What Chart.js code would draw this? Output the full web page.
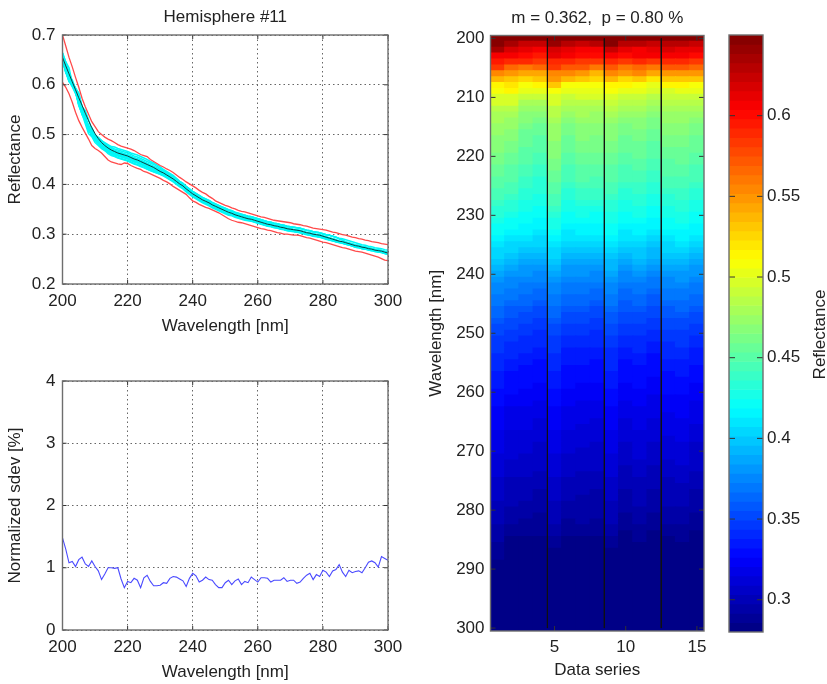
<!DOCTYPE html>
<html>
<head>
<meta charset="utf-8">
<script src="https://cdn.jsdelivr.net/npm/chart.js@4/dist/chart.umd.min.js"></script>
<style>
    html, body { margin: 0; background: #fff; width: 827px; height: 684px; overflow: hidden; }
    canvas { position: absolute; filter: blur(0.45px); }
</style>
</head>
<body>
<canvas id="curves" width="420" height="345" style="left:0;top:0"></canvas>
<canvas id="sdev" width="420" height="324" style="left:0;top:360px"></canvas>
<canvas id="heat" width="300" height="684" style="left:425px;top:0"></canvas>
<canvas id="bar" width="102" height="684" style="left:725px;top:0"></canvas>
<script>
const wavelengthTicks = [200, 220, 240, 260, 280, 300];
const reflectanceTicks = [0.2, 0.3, 0.4, 0.5, 0.6, 0.7];
const sdevTicks = [0, 1, 2, 3, 4];
const heatRowTicks = [200, 210, 220, 230, 240, 250, 260, 270, 280, 290, 300];
const heatColTicks = [5, 10, 15];
const colorbarTicks = [0.3, 0.35, 0.4, 0.45, 0.5, 0.55, 0.6];
const groupSeparators = [4.5, 8.5, 12.5];
const colorMin = 0.28;
const colorMax = 0.65;

const meanCurve = [.655,.638,.622,.606,.590,.574,.559,.543,.528,.514,.502,.492,.484,.478,.473,.469,.466,.463,.461,.459,
    .457,.454,.451,.449,.446,.443,.440,.437,.434,.430,.426,.423,.419,.415,.411,.406,.401,.397,.391,.386,
    .381,.377,.373,.369,.366,.363,.359,.356,.353,.350,.347,.344,.342,.339,.337,.335,.333,.331,.330,.328,
    .326,.324,.322,.320,.319,.317,.316,.314,.313,.311,.310,.309,.308,.307,.305,.303,.302,.300,.299,.298,
    .296,.294,.292,.290,.288,.286,.285,.283,.281,.279,.277,.276,.274,.273,.271,.270,.268,.267,.266,.264,.262];

const upperCurve = [.700,.678,.655,.636,.615,.595,.573,.556,.541,.526,.516,.506,.500,.495,.491,.488,.484,.480,.477,.475,
    .473,.471,.468,.464,.460,.458,.456,.450,.446,.442,.438,.435,.431,.428,.424,.419,.414,.410,.405,.401,
    .397,.393,.388,.384,.381,.376,.372,.367,.364,.361,.358,.356,.353,.351,.348,.346,.345,.343,.341,.339,
    .337,.335,.334,.332,.330,.328,.327,.326,.325,.324,.323,.321,.320,.319,.317,.316,.314,.312,.311,.310,
    .309,.308,.306,.304,.303,.301,.299,.298,.296,.294,.293,.291,.290,.288,.287,.285,.284,.283,.281,.280,.279];

const lowerCurve = [.605,.595,.582,.565,.545,.528,.515,.503,.491,.478,.472,.468,.463,.456,.449,.445,.443,.441,.440,.443,
    .442,.438,.435,.432,.430,.426,.424,.421,.418,.415,.412,.408,.405,.401,.396,.392,.388,.384,.380,.373,
    .367,.364,.360,.357,.354,.352,.349,.346,.343,.339,.335,.331,.328,.326,.324,.323,.321,.319,.317,.315,
    .313,.311,.310,.308,.307,.305,.303,.302,.300,.300,.299,.298,.298,.297,.295,.293,.292,.290,.288,.286,
    .284,.283,.281,.279,.277,.275,.273,.272,.270,.268,.266,.265,.264,.262,.260,.258,.256,.254,.251,.248,.247];

const sdevCurve = [1.48,1.30,1.08,1.10,1.02,1.13,1.17,1.06,1.02,1.11,1.02,.95,.81,.90,1.00,1.00,.99,1.00,.82,.68,
    .78,.76,.83,.80,.68,.84,.88,.78,.71,.71,.72,.76,.75,.83,.86,.85,.82,.79,.70,.83,
    .91,.87,.77,.80,.85,.81,.80,.73,.68,.68,.76,.80,.73,.79,.82,.73,.78,.76,.85,.81,
    .77,.84,.84,.83,.77,.80,.80,.80,.84,.78,.80,.80,.75,.77,.83,.88,.91,.81,.89,.86,
    .96,.93,.86,.95,.97,1.05,.93,.86,.96,.92,.94,.95,.92,1.00,1.09,1.11,1.08,1.01,1.18,1.15,1.12];

// one row per wavelength, one value per data series
const seriesTable = [
    [.664,.660,.652,.652,.660,.660,.652,.652,.664,.664,.650,.650,.656,.652,.648],
    [.646,.638,.626,.626,.640,.632,.626,.628,.646,.630,.632,.624,.632,.630,.626],
    [.634,.620,.610,.608,.618,.614,.606,.608,.626,.612,.608,.612,.616,.612,.610],
    [.604,.606,.600,.596,.610,.606,.600,.600,.606,.598,.604,.604,.604,.606,.602],
    [.594,.592,.588,.582,.592,.590,.584,.586,.592,.586,.590,.586,.592,.590,.586],
    [.582,.566,.560,.566,.584,.570,.574,.562,.572,.560,.566,.558,.572,.572,.566],
    [.556,.548,.542,.544,.556,.552,.546,.540,.552,.546,.552,.542,.548,.546,.550],
    [.538,.534,.528,.532,.548,.536,.530,.528,.536,.526,.534,.522,.534,.530,.532],
    [.516,.518,.508,.514,.530,.508,.506,.506,.516,.512,.506,.502,.516,.514,.510],
    [.506,.514,.504,.500,.510,.504,.504,.503,.506,.500,.504,.496,.498,.500,.503],
    [.495,.499,.489,.489,.499,.490,.496,.495,.494,.492,.492,.484,.490,.490,.490],
    [.494,.494,.482,.482,.494,.483,.488,.486,.490,.484,.486,.478,.486,.486,.484],
    [.488,.486,.476,.474,.488,.478,.482,.480,.484,.478,.478,.472,.480,.480,.478],
    [.482,.480,.470,.468,.484,.472,.478,.476,.478,.472,.474,.468,.476,.476,.472],
    [.478,.476,.466,.462,.480,.468,.472,.472,.474,.468,.470,.464,.472,.472,.468],
    [.474,.472,.462,.458,.476,.464,.470,.468,.470,.464,.466,.460,.468,.468,.464],
    [.471,.468,.459,.456,.475,.461,.467,.466,.468,.462,.463,.457,.465,.466,.461],
    [.469,.466,.457,.453,.472,.459,.465,.464,.465,.459,.461,.454,.462,.463,.459],
    [.467,.464,.455,.451,.470,.457,.463,.462,.463,.457,.459,.452,.460,.461,.457],
    [.465,.461,.453,.449,.468,.455,.461,.460,.461,.455,.457,.450,.458,.459,.455],
    [.463,.459,.451,.447,.466,.453,.459,.458,.459,.453,.455,.448,.456,.457,.453],
    [.460,.456,.448,.444,.463,.450,.456,.455,.456,.450,.452,.445,.453,.454,.450],
    [.457,.453,.445,.441,.461,.447,.453,.452,.453,.447,.449,.442,.450,.451,.447],
    [.455,.451,.443,.439,.459,.445,.451,.450,.451,.445,.447,.440,.448,.449,.445],
    [.452,.448,.440,.436,.456,.442,.448,.447,.448,.442,.444,.437,.445,.446,.442],
    [.449,.445,.437,.434,.453,.439,.445,.444,.445,.439,.441,.434,.442,.443,.439],
    [.446,.442,.434,.431,.450,.436,.441,.441,.442,.436,.438,.431,.439,.440,.436],
    [.443,.439,.431,.428,.446,.433,.438,.438,.439,.433,.435,.428,.436,.437,.433],
    [.440,.436,.428,.425,.443,.430,.434,.433,.436,.430,.432,.426,.433,.434,.430],
    [.436,.432,.425,.423,.439,.427,.430,.429,.433,.427,.429,.423,.430,.431,.427],
    [.432,.428,.422,.420,.435,.423,.426,.424,.430,.423,.425,.420,.427,.428,.423],
    [.428,.424,.420,.417,.430,.420,.423,.420,.427,.420,.422,.417,.424,.425,.420],
    [.424,.420,.416,.414,.426,.416,.418,.416,.423,.416,.418,.413,.420,.421,.416],
    [.420,.416,.413,.410,.422,.412,.414,.413,.419,.412,.414,.409,.416,.417,.413],
    [.416,.412,.408,.407,.418,.408,.410,.408,.415,.408,.410,.405,.412,.413,.409],
    [.411,.407,.404,.402,.412,.404,.404,.402,.410,.403,.405,.400,.407,.408,.404],
    [.406,.402,.398,.397,.406,.399,.399,.397,.405,.398,.400,.395,.402,.403,.399],
    [.402,.398,.395,.393,.402,.395,.395,.393,.401,.394,.396,.391,.398,.399,.395],
    [.396,.392,.389,.387,.396,.389,.389,.387,.395,.388,.390,.385,.392,.393,.389],
    [.391,.387,.384,.382,.391,.384,.384,.382,.390,.383,.385,.380,.387,.388,.384],
    [.386,.382,.379,.377,.386,.379,.379,.377,.385,.378,.380,.375,.382,.383,.379],
    [.382,.378,.375,.373,.382,.375,.375,.373,.381,.374,.376,.371,.378,.379,.375],
    [.378,.374,.371,.369,.378,.371,.371,.369,.377,.370,.372,.367,.374,.375,.371],
    [.374,.370,.367,.365,.374,.367,.367,.365,.373,.366,.368,.363,.370,.371,.367],
    [.371,.367,.364,.362,.371,.364,.364,.362,.370,.363,.365,.360,.367,.368,.364],
    [.368,.364,.361,.359,.368,.361,.361,.359,.367,.360,.362,.357,.364,.365,.361],
    [.364,.360,.357,.355,.364,.357,.357,.355,.363,.356,.358,.353,.360,.361,.357],
    [.361,.357,.354,.352,.361,.354,.354,.352,.360,.353,.355,.350,.357,.358,.354],
    [.358,.354,.351,.349,.358,.351,.351,.349,.357,.350,.352,.347,.354,.355,.351],
    [.355,.351,.348,.346,.355,.348,.348,.346,.354,.347,.349,.344,.351,.352,.348],
    [.352,.348,.345,.343,.352,.345,.345,.343,.351,.344,.346,.341,.348,.349,.345],
    [.349,.345,.342,.340,.349,.342,.342,.340,.348,.341,.343,.338,.345,.346,.342],
    [.347,.343,.340,.338,.347,.340,.340,.339,.346,.339,.341,.337,.343,.344,.340],
    [.344,.340,.338,.336,.344,.337,.337,.336,.343,.336,.338,.334,.340,.341,.337],
    [.342,.338,.336,.334,.342,.335,.335,.334,.341,.334,.336,.332,.338,.339,.335],
    [.340,.336,.334,.332,.340,.333,.333,.332,.339,.332,.334,.330,.336,.337,.333],
    [.338,.334,.332,.330,.338,.331,.331,.330,.338,.330,.332,.328,.334,.335,.331],
    [.336,.332,.330,.329,.336,.330,.329,.328,.336,.328,.331,.327,.332,.333,.329],
    [.335,.331,.329,.328,.335,.329,.328,.327,.335,.327,.330,.326,.331,.332,.328],
    [.333,.329,.327,.326,.333,.327,.326,.325,.333,.325,.328,.324,.329,.330,.326],
    [.331,.327,.325,.323,.331,.325,.324,.323,.331,.323,.326,.322,.327,.328,.324],
    [.329,.325,.323,.321,.329,.323,.322,.321,.329,.321,.324,.320,.325,.326,.322],
    [.327,.322,.321,.319,.327,.321,.320,.319,.327,.319,.322,.318,.323,.324,.320],
    [.325,.320,.319,.317,.325,.319,.318,.317,.325,.317,.320,.316,.321,.322,.318],
    [.324,.319,.318,.316,.324,.318,.317,.316,.324,.316,.319,.315,.320,.321,.317],
    [.322,.317,.316,.314,.322,.316,.315,.314,.322,.314,.317,.313,.318,.319,.315],
    [.321,.316,.315,.313,.321,.315,.314,.313,.321,.313,.316,.312,.317,.318,.314],
    [.319,.314,.313,.311,.319,.313,.312,.311,.319,.311,.314,.310,.315,.316,.312],
    [.318,.313,.312,.310,.318,.312,.311,.310,.318,.310,.313,.309,.313,.315,.310],
    [.316,.311,.310,.308,.316,.310,.309,.308,.316,.308,.311,.307,.311,.313,.308],
    [.315,.310,.309,.307,.315,.309,.308,.307,.315,.307,.310,.306,.310,.312,.307],
    [.314,.309,.307,.306,.314,.308,.307,.306,.314,.306,.309,.305,.309,.310,.306],
    [.313,.308,.306,.305,.313,.307,.306,.305,.313,.305,.308,.304,.308,.309,.305],
    [.312,.307,.305,.304,.312,.306,.305,.304,.312,.303,.307,.303,.307,.308,.304],
    [.310,.305,.304,.302,.310,.304,.303,.302,.310,.302,.305,.301,.305,.306,.302],
    [.308,.303,.302,.300,.308,.302,.301,.300,.308,.300,.303,.299,.303,.304,.300],
    [.307,.302,.301,.299,.307,.301,.300,.299,.307,.299,.302,.298,.302,.303,.299],
    [.305,.300,.299,.297,.305,.299,.298,.297,.305,.297,.300,.296,.300,.301,.297],
    [.304,.299,.298,.296,.304,.298,.297,.296,.304,.296,.299,.295,.299,.300,.296],
    [.303,.298,.297,.295,.303,.297,.296,.295,.303,.295,.298,.294,.298,.299,.295],
    [.301,.296,.295,.293,.301,.295,.294,.293,.301,.293,.296,.292,.296,.297,.293],
    [.299,.294,.293,.291,.299,.293,.293,.292,.299,.291,.294,.290,.294,.295,.291],
    [.298,.292,.291,.290,.298,.291,.292,.291,.298,.289,.292,.288,.292,.293,.289],
    [.296,.290,.289,.288,.296,.289,.291,.289,.296,.287,.290,.287,.290,.291,.287],
    [.294,.288,.288,.286,.294,.287,.289,.287,.294,.285,.288,.285,.288,.289,.285],
    [.292,.285,.285,.285,.291,.285,.285,.285,.290,.283,.286,.284,.285,.286,.284],
    [.291,.284,.284,.283,.288,.283,.283,.283,.288,.282,.284,.282,.284,.284,.283],
    [.289,.282,.282,.281,.285,.281,.281,.281,.284,.280,.282,.280,.282,.282,.281],
    [.287,.280,.280,.279,.283,.279,.279,.279,.282,.278,.280,.278,.280,.280,.279],
    [.285,.278,.278,.277,.281,.277,.277,.277,.280,.276,.278,.276,.278,.278,.277],
    [.283,.276,.276,.275,.279,.275,.275,.275,.278,.274,.276,.274,.276,.276,.275],
    [.281,.275,.275,.274,.278,.274,.274,.274,.277,.273,.275,.273,.275,.275,.274],
    [.279,.273,.273,.272,.276,.272,.272,.272,.275,.271,.273,.271,.273,.274,.272],
    [.278,.272,.272,.271,.275,.271,.271,.271,.274,.270,.272,.270,.272,.273,.271],
    [.276,.270,.270,.269,.273,.269,.269,.269,.272,.268,.270,.268,.270,.271,.269],
    [.275,.269,.269,.268,.272,.268,.268,.268,.271,.267,.269,.267,.269,.270,.268],
    [.273,.267,.267,.266,.270,.266,.266,.266,.269,.265,.267,.265,.267,.268,.266],
    [.272,.266,.266,.265,.269,.265,.265,.265,.268,.264,.266,.264,.266,.267,.265],
    [.271,.265,.265,.264,.268,.264,.264,.264,.267,.263,.265,.263,.265,.266,.264],
    [.269,.263,.263,.262,.266,.262,.262,.262,.265,.261,.263,.261,.263,.264,.262],
    [.268,.261,.261,.260,.264,.260,.260,.260,.263,.259,.261,.259,.261,.262,.260]
];

const wavelengths = seriesTable.map((row, i) => 200 + i);
const toPoints = values => values.map((y, i) => ({ x: wavelengths[i], y }));

// MATLAB jet, 64 steps
function jet(value) {
    const level = Math.min(63, Math.max(0, Math.floor((value - colorMin) / (colorMax - colorMin) * 64)));
    const t = (level + 0.5) / 64 * 4;
    const ch = c => Math.round(255 * Math.min(1, Math.max(0, 1.5 - Math.abs(t - c))));
    return `rgb(${ch(3)},${ch(2)},${ch(1)})`;
}

Chart.defaults.font.family = '"Liberation Sans", Arial, sans-serif';
Chart.defaults.font.size = 17;
Chart.defaults.color = '#222222';
Chart.defaults.animation = false;
Chart.defaults.responsive = false;
Chart.defaults.plugins.legend.display = false;
Chart.defaults.plugins.tooltip.enabled = false;

// box around the plot with inward tick marks on all four sides
const boxTicks = {
    id: 'boxTicks',
    afterDraw(chart, args, opts) {
        const { ctx, chartArea: a, scales } = chart;
        const len = opts.length || 4;
        ctx.save();
        ctx.strokeStyle = '#333333';
        ctx.lineWidth = 1;
        ctx.beginPath();
        if (scales.x.options.display) {
            scales.x.ticks.forEach(t => {
                const px = scales.x.getPixelForValue(t.value);
                ctx.moveTo(px, a.top); ctx.lineTo(px, a.top + len);
                ctx.moveTo(px, a.bottom); ctx.lineTo(px, a.bottom - len);
            });
        }
        scales.y.ticks.forEach(t => {
            const py = scales.y.getPixelForValue(t.value);
            ctx.moveTo(a.left, py); ctx.lineTo(a.left + len, py);
            ctx.moveTo(a.right, py); ctx.lineTo(a.right - len, py);
        });
        ctx.stroke();
        ctx.strokeStyle = '#6e6e6e';
        ctx.lineWidth = 1.4;
        ctx.strokeRect(a.left, a.top, a.right - a.left, a.bottom - a.top);
        ctx.restore();
    }
};

// colorbar label reads bottom to top, the axis title on a right axis would not
const barLabel = {
    id: 'barLabel',
    afterDraw(chart) {
        const { ctx, chartArea: a } = chart;
        ctx.save();
        ctx.translate(95, (a.top + a.bottom) / 2 + 1);
        ctx.rotate(-Math.PI / 2);
        ctx.textAlign = 'center';
        ctx.textBaseline = 'middle';
        ctx.font = '17px "Liberation Sans", Arial, sans-serif';
        ctx.fillStyle = '#222222';
        ctx.fillText('Reflectance', 0, 0);
        ctx.restore();
    }
};

function axis(ticks, extra) {
    return Object.assign({
        type: 'linear',
        offset: false,
        afterBuildTicks: s => { s.ticks = ticks.map(value => ({ value })); },
        ticks: { autoSkip: false, maxRotation: 0, padding: 7, callback: v => String(v) },
        grid: { drawTicks: false, color: '#666666', lineWidth: 1 },
        border: { display: false, dash: [1.5, 3] }
    }, extra);
}
const fixedWidth = w => s => { s.width = w; };
const fixedHeight = h => s => { s.height = h; };
const axisTitle = (text, padding) => ({ display: true, text, font: { size: 17 }, color: '#222222', padding });
const noGrid = { display: false, drawTicks: false };
const heatTickStyle = { autoSkip: false, maxRotation: 0, padding: 6, callback: v => String(v) };

new Chart(document.getElementById('curves'), {
    type: 'line',
    data: {
        datasets: [
            { data: toPoints(meanCurve), borderColor: '#103c3c', borderWidth: 1 },
            { data: toPoints(upperCurve), borderColor: '#ff4a4a', borderWidth: 1.3 },
            { data: toPoints(lowerCurve), borderColor: '#ff4a4a', borderWidth: 1.3 },
            ...seriesTable[0].map((v, s) => ({
                data: toPoints(seriesTable.map(row => row[s])),
                borderColor: '#00f8f8',
                borderWidth: 1.5
            }))
        ]
    },
    options: {
        layout: { padding: { right: 32 } },
        elements: { point: { radius: 0 }, line: { tension: 0 } },
        plugins: {
            title: { display: true, text: 'Hemisphere #11', fullSize: false, font: { size: 17, weight: 'normal' }, color: '#222222', padding: { top: 7, bottom: 7.6 } },
            boxTicks: {}
        },
        scales: {
            x: axis(wavelengthTicks, { min: 200, max: 300, afterFit: fixedHeight(61), title: axisTitle('Wavelength [nm]', { top: 0, bottom: 8 }) }),
            y: axis(reflectanceTicks, { min: 0.2, max: 0.7, afterFit: fixedWidth(62.5), title: axisTitle('Reflectance', { top: 5, bottom: 0 }) })
        }
    },
    plugins: [boxTicks]
});

new Chart(document.getElementById('sdev'), {
    type: 'line',
    data: { datasets: [{ data: toPoints(sdevCurve), borderColor: '#4a4aff', borderWidth: 1.1 }] },
    options: {
        layout: { padding: { top: 21, right: 32 } },
        elements: { point: { radius: 0 }, line: { tension: 0 } },
        plugins: { boxTicks: {} },
        scales: {
            x: axis(wavelengthTicks, { min: 200, max: 300, afterFit: fixedHeight(54), title: axisTitle('Wavelength [nm]', { top: 0, bottom: 1 }) }),
            y: axis(sdevTicks, { min: 0, max: 4, afterFit: fixedWidth(62.5), title: axisTitle('Normalized sdev [%]', { top: 5, bottom: 0 }) })
        }
    },
    plugins: [boxTicks]
});

const heatCells = [];
const heatColors = [];
seriesTable.forEach((row, r) => row.forEach((v, c) => {
    heatCells.push({ x: c + 1, y: [wavelengths[r] - 0.5, wavelengths[r] + 0.5] });
    heatColors.push(jet(v));
}));

new Chart(document.getElementById('heat'), {
    type: 'bar',
    data: {
        datasets: [
            ...groupSeparators.map(x => ({
                type: 'line',
                data: [{ x, y: 200 }, { x, y: 300 }],
                borderColor: '#111111',
                borderWidth: 1,
                pointRadius: 0
            })),
            { data: heatCells, backgroundColor: heatColors, barPercentage: 1, categoryPercentage: 1, inflateAmount: 0.6 }
        ]
    },
    options: {
        plugins: {
            title: { display: true, text: 'm = 0.362,  p = 0.80 %', fullSize: false, font: { size: 17, weight: 'normal' }, color: '#222222', padding: { top: 8, bottom: 7.1 } },
            boxTicks: { length: 5 }
        },
        layout: { padding: { right: 21 } },
        scales: {
            x: axis(heatColTicks, { min: 0.5, max: 15.5, grid: noGrid, ticks: heatTickStyle, afterFit: fixedHeight(53), title: axisTitle('Data series', { top: 0, bottom: 3 }) }),
            y: axis(heatRowTicks, { min: 199.5, max: 300.5, reverse: true, grid: noGrid, ticks: heatTickStyle, afterFit: fixedWidth(65.5), title: axisTitle('Wavelength [nm]', { top: 1, bottom: 0 }) })
        }
    },
    plugins: [boxTicks]
});

// colorbar: one floating bar per colormap step
const barCells = [];
const barColors = [];
for (let i = 0; i < 64; i++) {
    const lo = colorMin + (colorMax - colorMin) * i / 64;
    const hi = colorMin + (colorMax - colorMin) * (i + 1) / 64;
    barCells.push({ x: 0.5, y: [lo, hi] });
    barColors.push(jet((lo + hi) / 2));
}

new Chart(document.getElementById('bar'), {
    type: 'bar',
    data: { datasets: [{ data: barCells, backgroundColor: barColors, barPercentage: 1, categoryPercentage: 1 }] },
    options: {
        layout: { padding: { top: 35, bottom: 52, left: 4 } },
        plugins: { boxTicks: { length: 6 } },
        scales: {
            x: { type: 'linear', min: 0, max: 1, offset: false, display: false },
            y: axis(colorbarTicks, { min: colorMin, max: colorMax, position: 'right', grid: noGrid, afterFit: fixedWidth(64), ticks: { autoSkip: false, padding: 4, callback: v => String(v) } })
        }
    },
    plugins: [boxTicks, barLabel]
});
</script>
</body>
</html>
